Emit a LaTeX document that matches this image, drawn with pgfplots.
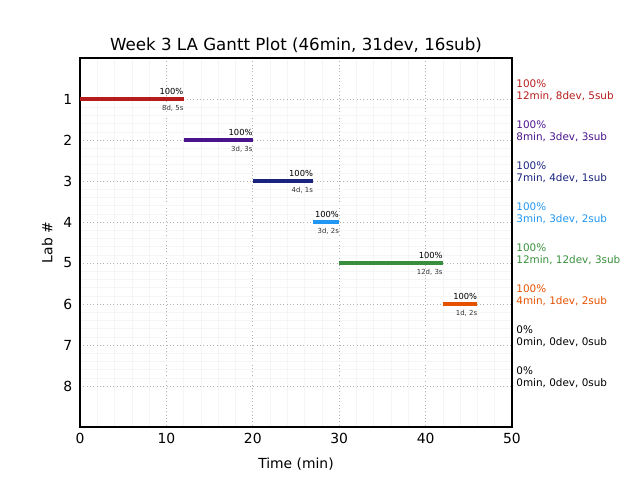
\documentclass[border=0pt]{standalone}
\usepackage{fontspec}
\setmainfont{DejaVu Sans}
\usepackage{pgfplots}
\pgfplotsset{compat=1.18}
\definecolor{c1}{HTML}{B71C1C}
\definecolor{c2}{HTML}{4A148C}
\definecolor{c3}{HTML}{1A237E}
\definecolor{c4}{HTML}{2196F3}
\definecolor{c5}{HTML}{388E3C}
\definecolor{c6}{HTML}{E65100}
\begin{document}
\begin{tikzpicture}
\path[use as bounding box] (-57.6pt,-38.16pt) rectangle (403.2pt,307.44pt);
\begin{axis}[
  at={(0,0)}, anchor=south west,
  scale only axis, width=311.04pt, height=265.68pt,
  xmin=0, xmax=50, ymin=0, ymax=9, y dir=reverse,
  xtick={0,10,20,30,40,50}, ytick={1,2,3,4,5,6,7,8},
  minor x tick num=4, minor y tick num=4,
  major tick length=0pt, minor tick length=0pt,
  grid=both,
  major grid style={dotted, color=black!30, line width=0.6pt},
  minor grid style={solid, color=black!4, line width=0.4pt},
  axis line style={line width=0.8pt},
  /pgf/number format/assume math mode=true,
  tick label style={font=\fontsize{10}{12}\selectfont},
  label style={font=\fontsize{10}{12}\selectfont},
  xlabel={Time (min)}, ylabel={Lab \#},
  xlabel style={yshift=-3pt}, ylabel style={yshift=1pt},
  xticklabel style={yshift=-1pt}, yticklabel style={xshift=-2pt},
  title={Week 3 LA Gantt Plot (46min, 31dev, 16sub)},
  title style={font=\fontsize{12}{14}\selectfont, yshift=-5.5pt},
  clip=false,
]
\addplot[c1, line width=2.9pt] coordinates {(0,1) (12,1)};
\addplot[c2, line width=2.9pt] coordinates {(12,2) (20,2)};
\addplot[c3, line width=2.9pt] coordinates {(20,3) (27,3)};
\addplot[c4, line width=2.9pt] coordinates {(27,4) (30,4)};
\addplot[c5, line width=2.9pt] coordinates {(30,5) (42,5)};
\addplot[c6, line width=2.9pt] coordinates {(42,6) (46,6)};
\foreach \e/\l/\s in {12/1/{8d, 5s}, 20/2/{3d, 3s}, 27/3/{4d, 1s}, 30/4/{3d, 2s}, 42/5/{12d, 3s}, 46/6/{1d, 2s}}{
  \edef\tmp{\noexpand\node[anchor=south east, inner sep=0pt, font=\noexpand\fontsize{6}{7}\noexpand\selectfont, yshift=3pt] at (axis cs:\e,\l) {100\noexpand\%};
  \noexpand\node[anchor=north east, inner sep=0pt, font=\noexpand\fontsize{5}{6}\noexpand\selectfont, yshift=-4.5pt, text=black!80] at (axis cs:\e,\l) {\s};}
  \tmp
}
\foreach \l/\p/\t/\c in {1/100/{12min, 8dev, 5sub}/c1, 2/100/{8min, 3dev, 3sub}/c2, 3/100/{7min, 4dev, 1sub}/c3, 4/100/{3min, 3dev, 2sub}/c4, 5/100/{12min, 12dev, 3sub}/c5, 6/100/{4min, 1dev, 2sub}/c6, 7/0/{0min, 0dev, 0sub}/black, 8/0/{0min, 0dev, 0sub}/black}{
  \edef\tmp{\noexpand\node[anchor=south west, inner sep=0pt, align=left, text=\c, font=\noexpand\fontsize{7.5}{8.8}\noexpand\selectfont, xshift=3pt, yshift=-1.5pt] at (axis cs:50,\l) {\p\noexpand\%\noexpand\\\t};}
  \tmp
}
\end{axis}
\end{tikzpicture}
\end{document}
